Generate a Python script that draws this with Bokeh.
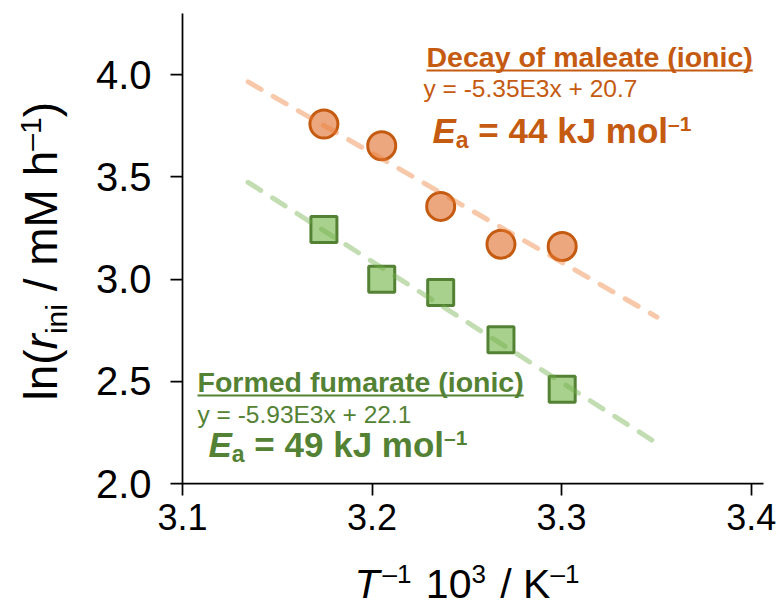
import math
import numpy as np
from bokeh.plotting import figure
from bokeh.models import Range1d, Label, FixedTicker
from bokeh.layouts import column, row
from bokeh.embed import file_html
from bokeh.resources import INLINE

# ---------------- data ----------------
inv_T = [3.1746, 3.2051, 3.2362, 3.2680, 3.3003]          # T^-1 10^3 / K^-1
ln_r_maleate = [3.759, 3.653, 3.356, 3.171, 3.160]        # decay of maleate
ln_r_fumarate = [3.243, 3.000, 2.935, 2.704, 2.461]       # formed fumarate
x_ticks = [3.1, 3.2, 3.3, 3.4]
x_tick_labels = ["3.1", "3.2", "3.3", "3.4"]
y_ticks = [2.0, 2.5, 3.0, 3.5, 4.0]
y_tick_labels = ["2.0", "2.5", "3.0", "3.5", "4.0"]

# ---------------- layout ----------------
W, H = 779, 610
YW = 75                 # width of the strip holding the y-axis title
MH = 560                # height of the main figure
FL, FR, FT, FB = 182, 16, 13, 127   # frame borders in page pixels
X0, X1 = 3.1, 3.4065
Y0, Y1 = 2.0, 4.3
FW, FH = W - FL - FR, H - FT - FB
K = 0.35                # distance from baseline to text middle, in em

ORANGE_DARK = "#C55A11"
ORANGE_FILL = "#EDA77E"
ORANGE_LINE = "#ED7D31"
GREEN_DARK = "#548235"
GREEN_FILL = "#A9D18E"
GREEN_LINE = "#70AD47"
FONT = "Liberation Sans"


def blank(fig):
    fig.outline_line_color = None
    fig.background_fill_color = "white"
    fig.border_fill_color = "white"
    return fig


p = blank(figure(width=W - YW, height=MH, x_range=Range1d(X0, X1), y_range=Range1d(Y0, Y1),
                 output_backend="svg", toolbar_location=None,
                 min_border_left=FL - YW, min_border_right=FR, min_border_top=FT,
                 min_border_bottom=MH - FT - FH))
p.grid.visible = False

p.xaxis.ticker = FixedTicker(ticks=x_ticks)
p.yaxis.ticker = FixedTicker(ticks=y_ticks)
p.xaxis.major_label_overrides = {t: s for t, s in zip(x_ticks, x_tick_labels)}
p.yaxis.major_label_overrides = {t: s for t, s in zip(y_ticks, y_tick_labels)}
for ax in (p.xaxis[0], p.yaxis[0]):
    ax.axis_line_color = "black"
    ax.axis_line_width = 1.75
    ax.major_tick_line_color = "black"
    ax.major_tick_line_width = 1.75
    ax.major_tick_out = 12
    ax.major_tick_in = 0
    ax.minor_tick_out = 0
    ax.minor_tick_in = 0
    ax.major_label_text_font = FONT
    ax.major_label_text_color = "black"
p.xaxis.major_label_text_font_size = "36px"
p.yaxis.major_label_text_font_size = "40px"
p.xaxis.major_label_standoff = 8
p.yaxis.major_label_standoff = 19

# strip for the y-axis title: its frame is aligned with the main frame (page y FT..FT+FH),
# so its y range is given directly in page pixels (top = FT)
yfig = blank(figure(width=YW, height=MH, x_range=Range1d(0, YW), y_range=Range1d(FT + FH, FT),
                    x_axis_type=None, y_axis_type=None, output_backend="svg",
                    toolbar_location=None, min_border=0))
# strip for the x-axis title (pixel coordinates, y upward from strip bottom)
xfig = blank(figure(width=W, height=H - MH, x_range=Range1d(0, W), y_range=Range1d(0, H - MH),
                    x_axis_type=None, y_axis_type=None, output_backend="svg",
                    toolbar_location=None, min_border=0))


def X(px):
    return X0 + (px - FL) * (X1 - X0) / FW


def Y(py):
    return Y0 + (FT + FH - py) * (Y1 - Y0) / FH


# ---------------- markers ----------------
p.scatter(inv_T, ln_r_maleate, marker="circle", size=28, fill_color=ORANGE_FILL,
          line_color=ORANGE_DARK, line_width=3)
p.scatter(inv_T, ln_r_fumarate, marker="square", size=26, fill_color=GREEN_FILL,
          line_color=GREEN_DARK, line_width=3)

# ---------------- linear trendlines (forecast back 0.04, forward 0.05) ----------------
xs = np.array(inv_T)
for ys, col in ((ln_r_maleate, ORANGE_LINE), (ln_r_fumarate, GREEN_LINE)):
    k, b = np.polyfit(xs, np.array(ys), 1)
    xl = np.array([xs.min() - 0.04, xs.max() + 0.05])
    p.line(xl, k * xl + b, line_color=col, line_alpha=0.42, line_width=5,
           line_dash="15 14", line_cap="round")

# ---------------- rich text helpers ----------------
REG = {" ": 278, "(": 333, ")": 333, "/": 278, "-": 333, "\u2013": 556, ".": 278, "=": 584,
       "+": 584, "E": 667, "K": 667, "M": 833, "T": 611, "a": 556, "h": 556, "i": 222,
       "l": 222, "m": 833, "n": 556, "r": 333, "x": 500, "y": 500}
BOLD = {" ": 278, "(": 333, ")": 333, "=": 584, "\u2013": 556, "E": 667, "a": 556, "k": 556,
        "J": 556, "m": 889, "o": 611, "l": 278, "D": 722, "e": 556, "c": 556, "y": 556,
        "f": 333, "t": 333, "i": 278, "n": 611, "F": 611, "r": 389, "u": 611, "d": 611}


def text_width(s, size, bold=False):
    tab = BOLD if bold else REG
    return sum(tab.get(ch, 556) for ch in s) * size / 1000.0


def style_of(bold, italic):
    if bold and italic:
        return "bold italic"
    if bold:
        return "bold"
    if italic:
        return "italic"
    return "normal"


def rich_h(fig, fx, fy, x_px, y_px, pieces, color):
    """pieces: (text, size, bold, italic, baseline shift up px, extra gap before px);
    x_px, y_px: page pixels of the start point on the baseline"""
    cx = x_px
    for s, size, bold, italic, up, gap in pieces:
        cx += gap
        lead = len(s) - len(s.lstrip(" "))
        cx += text_width(" " * lead, size, bold)
        s = s.lstrip(" ")
        w = text_width(s, size, bold)
        fig.add_layout(Label(x=fx(cx + w / 2), y=fy(y_px - up - K * size), text=s,
                             text_font=FONT, text_font_size=f"{size}px",
                             text_font_style=style_of(bold, italic), text_color=color,
                             text_align="center", text_baseline="middle"))
        cx += w
    return cx


def rich_v(fig, x_px, y_px, pieces, color):
    """text rotated 90deg (reads bottom to top); baseline at page x_px; start at page y_px"""
    cy = y_px
    for s, size, bold, italic, up, gap in pieces:
        cy -= gap
        lead = len(s) - len(s.lstrip(" "))
        cy -= text_width(" " * lead, size, bold)
        s = s.lstrip(" ")
        w = text_width(s, size, bold)
        fig.add_layout(Label(x=x_px - up - K * size, y=cy - w / 2, text=s,
                             text_font=FONT, angle=math.pi / 2, text_font_size=f"{size}px",
                             text_font_style=style_of(bold, italic), text_color=color,
                             text_align="center", text_baseline="middle"))
        cy -= w
    return cy


def title(x_px, y_px, s, size, color):
    end = rich_h(p, X, Y, x_px, y_px, [(s, size, True, False, 0, 0)], color)
    p.segment(x0=[X(x_px)], y0=[Y(y_px + 4)], x1=[X(end)], y1=[Y(y_px + 4)],
              line_color=color, line_width=2)


# ---------------- annotations ----------------
title(426, 66, "Decay of maleate (ionic)", 28.5, ORANGE_DARK)
rich_h(p, X, Y, 423, 97, [("y = -5.35E3x + 20.7", 24.5, False, False, 0, 0)], ORANGE_DARK)
rich_h(p, X, Y, 432, 142, [("E", 35, True, True, 0, 0), ("a", 23, True, False, -6, 0),
                           (" = 44 kJ mol", 35, True, False, 0, 0),
                           ("\u20131", 21, True, False, 12, 0)], ORANGE_DARK)

title(197, 391, "Formed fumarate (ionic)", 28.5, GREEN_DARK)
rich_h(p, X, Y, 197, 423, [("y = -5.93E3x + 22.1", 24.5, False, False, 0, 0)], GREEN_DARK)
rich_h(p, X, Y, 208, 456, [("E", 35, True, True, 0, 0), ("a", 23, True, False, -6, 0),
                           (" = 49 kJ mol", 35, True, False, 0, 0),
                           ("\u20131", 21, True, False, 12, 0)], GREEN_DARK)

# axis titles
rich_h(xfig, lambda v: v, lambda v: H - v, 354, 598,
       [("T", 41, False, True, 0, 0), ("\u20131", 26, False, False, 15, 3),
        (" 10", 41, False, False, 0, 3), ("3", 26, False, False, 15, 0),
        (" / K", 41, False, False, 0, 3), ("\u20131", 26, False, False, 15, 0)], "black")
rich_v(yfig, 57, 400,
       [("ln(", 46, False, False, 0, 0), ("r", 46, False, True, 0, 0),
        ("ini", 30, False, False, -9, 0), (" / mM h", 46, False, False, 0, 0),
        ("\u20131", 30, False, False, 17, 0), (")", 46, False, False, 0, 0)], "black")

layout = column(row(yfig, p, spacing=0), xfig, spacing=0)
open("out.html", "w").write(file_html(layout, INLINE))
